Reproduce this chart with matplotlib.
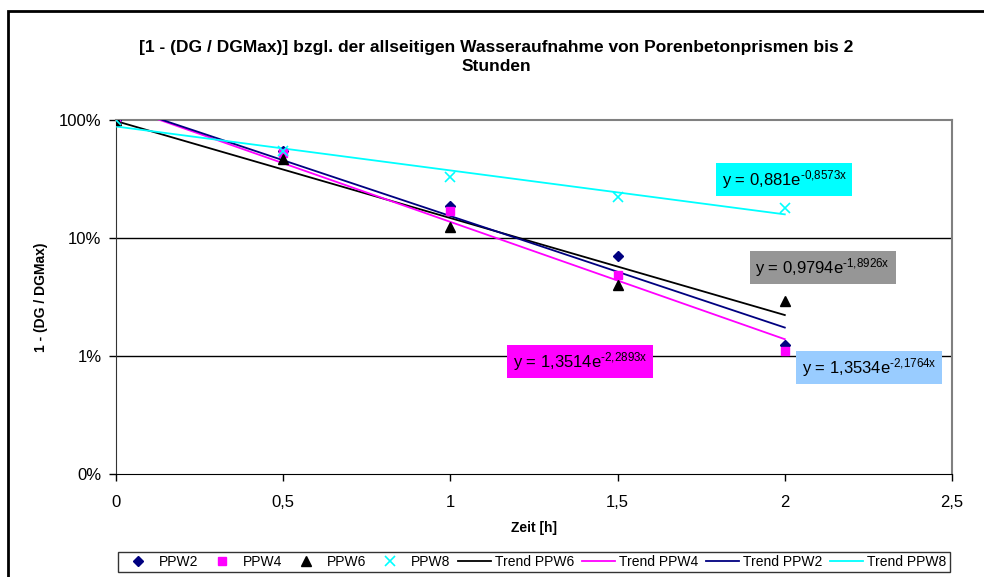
import numpy as np
import matplotlib
matplotlib.use("Agg")
import matplotlib.pyplot as plt
from matplotlib.patches import Rectangle
from matplotlib.ticker import FixedLocator, NullLocator, FuncFormatter

plt.rcParams['font.family'] = ['Liberation Sans', 'DejaVu Sans']
plt.rcParams['mathtext.fontset'] = 'custom'
plt.rcParams['mathtext.rm'] = 'Liberation Sans'
plt.rcParams['mathtext.default'] = 'regular'

# Data
zeit = [0, 0.5, 1, 1.5, 2]
ppw2 = [1.0, 0.55, 0.185, 0.070, 0.0124]
ppw4 = [1.0, 0.53, 0.168, 0.049, 0.0111]
ppw6 = [1.0, 0.465, 0.124, 0.040, 0.0295]
ppw8 = [1.0, 0.55, 0.33, 0.224, 0.18]

# Trend parameters (a * exp(b x))
trend_names = ['Trend PPW6', 'Trend PPW4', 'Trend PPW2', 'Trend PPW8']
trend_a = [0.9794, 1.3514, 1.3534, 0.881]
trend_b = [-1.8926, -2.2893, -2.1764, -0.8573]
trend_colors = ['#000000', '#FF00FF', '#000080', '#00FFFF']

eq_base = ['y = 0,9794e', 'y = 1,3514e', 'y = 1,3534e', 'y = 0,881e']
eq_exp = ['\u20101{,}8926x', '\u20102{,}2893x', '\u20102{,}1764x', '\u20100{,}8573x']
eq_colors = ['#969696', '#FF00FF', '#99CCFF', '#00FFFF']
eq_pos = [(1.912, 0.0562), (1.186, 0.00898), (2.050, 0.00799), (1.811, 0.313)]

yticks = [0.001, 0.01, 0.1, 1]
yticklabels = ['0%', '1%', '10%', '100%']
xticks = [0, 0.5, 1, 1.5, 2, 2.5]

fig = plt.figure(figsize=(9.84, 5.77), dpi=100)
ax = fig.add_axes([116/984, 1-474/577, (952-116)/984, (474-120)/577])

ax.set_yscale('log')
ax.set_ylim(0.001, 1)
ax.set_xlim(0, 2.5)

ax.plot(zeit, ppw2, linestyle='none', marker='D', color='#000080', markersize=5.5, label='PPW2', zorder=4)
ax.plot(zeit, ppw4, linestyle='none', marker='s', color='#FF00FF', markersize=6, label='PPW4', zorder=4)
ax.plot(zeit, ppw6, linestyle='none', marker='^', color='#000000', markersize=7, label='PPW6', zorder=4)
ax.plot(zeit, ppw8, linestyle='none', marker='x', color='#00FFFF', markersize=7, mew=1.2, label='PPW8', zorder=4)

xs = np.linspace(zeit[0], zeit[-1], 100)
for name, a, b, c in zip(trend_names, trend_a, trend_b, trend_colors):
    ax.plot(xs, a*np.exp(b*xs), color=c, lw=1.3, label=name, zorder=3)

for base, ex, c, (x, y) in zip(eq_base, eq_exp, eq_colors, eq_pos):
    ax.text(x, y, base + '$^{' + ex + '}$',
            fontsize=12, ha='left', va='center',
            bbox=dict(facecolor=c, edgecolor='none', pad=4), zorder=5)

for v in [0.01, 0.1]:
    ax.axhline(v, color='black', lw=1, zorder=1)

ax.yaxis.set_major_locator(FixedLocator(yticks))
ax.yaxis.set_minor_locator(NullLocator())
ax.set_yticklabels(yticklabels)
ax.xaxis.set_major_locator(FixedLocator(xticks))
ax.xaxis.set_major_formatter(FuncFormatter(lambda v, p: ('%g' % v).replace('.', ',')))
ax.tick_params(axis='both', direction='out', length=5, width=1, labelsize=12, colors='black')
ax.tick_params(axis='y', pad=5.5)
ax.tick_params(axis='x', pad=10)

ax.spines['top'].set_color('#808080')
ax.spines['right'].set_color('#808080')
ax.spines['top'].set_linewidth(1.5)
ax.spines['right'].set_linewidth(1.5)
ax.spines['left'].set_color('#333333')
ax.spines['bottom'].set_color('#000000')

ax.set_xlabel('Zeit [h]', fontsize=10, fontweight='bold', labelpad=8)
ax.set_ylabel('1 - (DG / DGMax)', fontsize=10, fontweight='bold', labelpad=8)

fig.text(496/984, 1-57/577, '[1 - (DG / DGMax)] bzgl. der allseitigen Wasseraufnahme von Porenbetonprismen bis 2\nStunden',
         ha='center', va='center', fontsize=12.5, fontweight='bold', linespacing=1.4)

h, l = ax.get_legend_handles_labels()
leg = fig.legend(h, l, loc='center', bbox_to_anchor=(534/984, 1-562/577), ncol=8,
                 fontsize=10, frameon=True, fancybox=False, edgecolor='#000000',
                 handlelength=2.37, columnspacing=0.55, handletextpad=0.3, borderpad=0.25,
                 borderaxespad=0)
leg.get_frame().set_linewidth(1)

fig.patches.append(Rectangle((8/984, -0.1), 1.2, 1 - 11/577 + 0.1, transform=fig.transFigure,
                             fill=False, edgecolor='black', lw=2))

fig.savefig('out.png', dpi=100)
